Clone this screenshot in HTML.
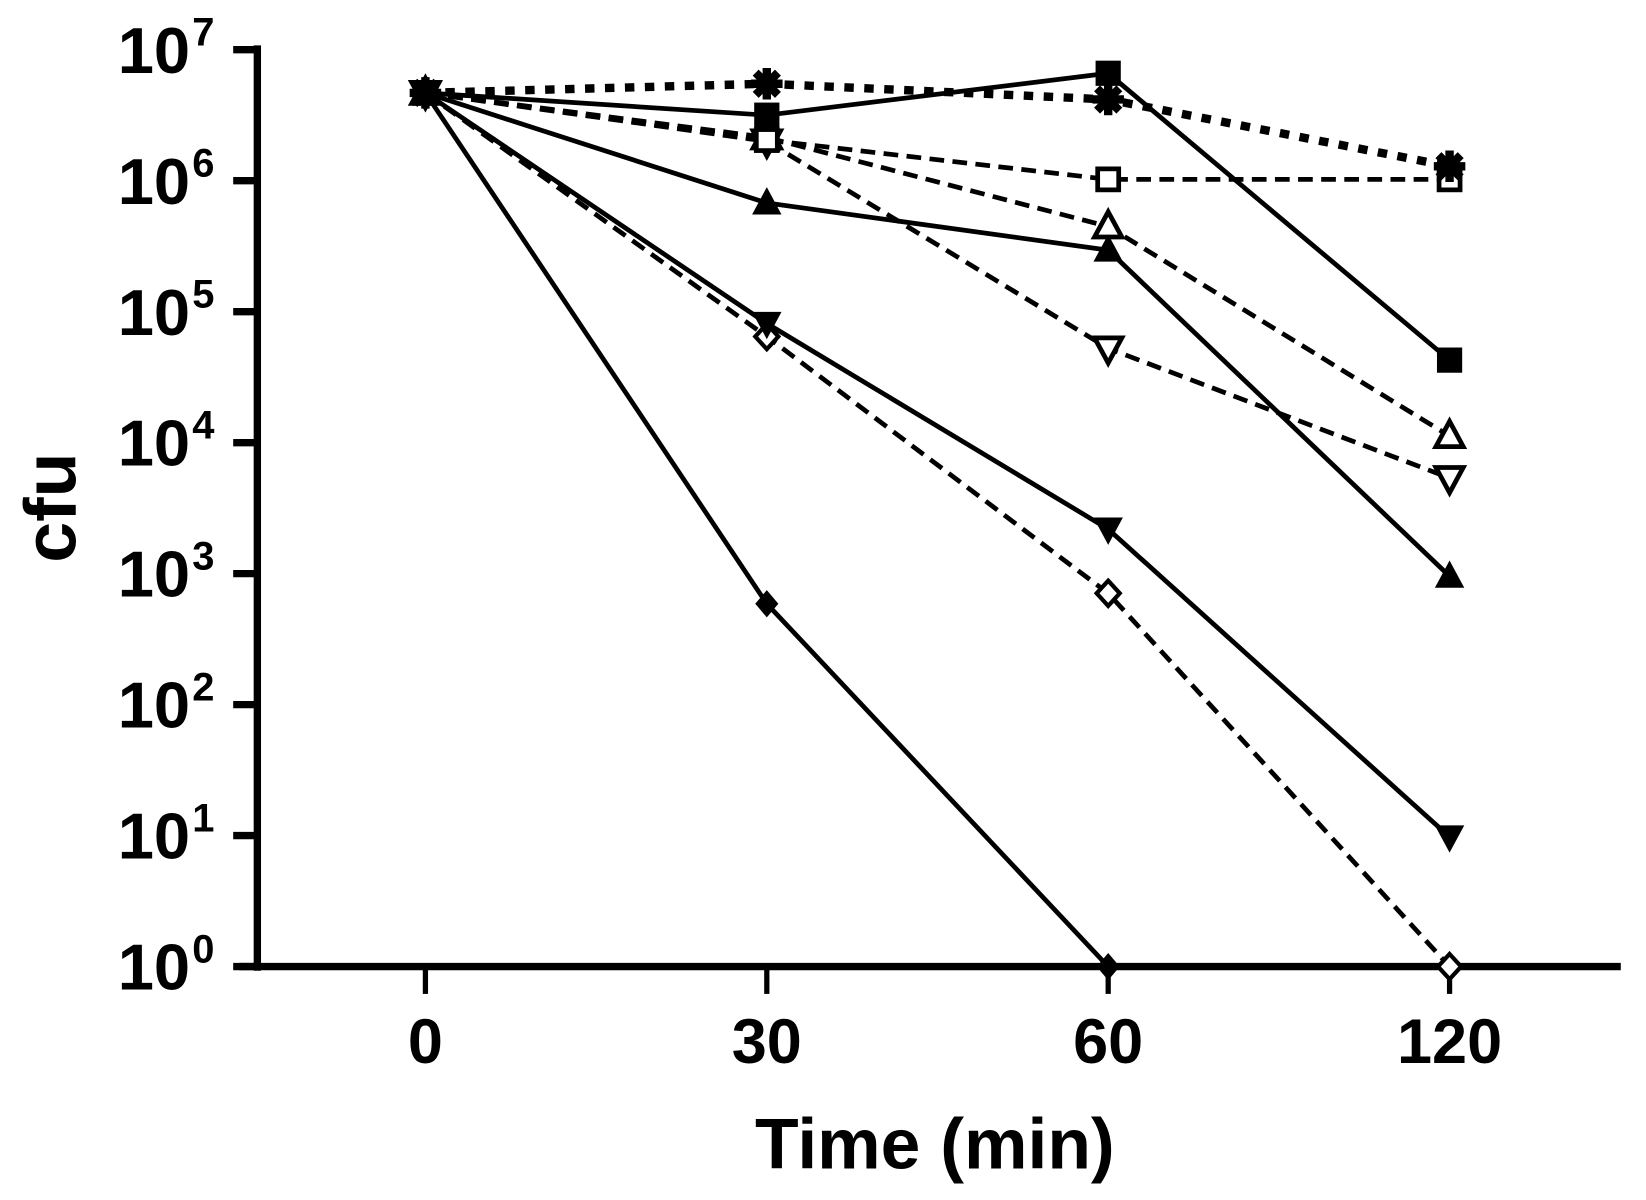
<!DOCTYPE html>
<html><head><meta charset="utf-8"><style>
html,body{margin:0;padding:0;background:#fff;}
svg{display:block;font-family:"Liberation Sans",Arial,sans-serif;font-weight:bold;}
</style></head><body>
<svg id="chart" width="1646" height="1200" viewBox="0 0 1567 1142" xmlns="http://www.w3.org/2000/svg">
<g id="axes"></g>
<g id="series"></g>
<text x="890" y="1112" font-size="68" text-anchor="middle">Time (min)</text>
<text transform="translate(72,483) rotate(-90)" font-size="70" text-anchor="middle">cfu</text>
</svg>
<script>
const categories = ["0", "30", "60", "120"];
const yTickExps = [0, 1, 2, 3, 4, 5, 6, 7];
// log10(cfu) values per series
const filledSquare   = [6.67, 6.50, 6.82, 4.63];
const asterisk       = [6.67, 6.74, 6.62, 6.11];
const openSquare     = [6.67, 6.31, 6.01, 6.01];
const filledTriUp    = [6.67, 5.83, 5.47, 2.98];
const openTriUp      = [6.67, 6.33, 5.65, 4.05];
const openTriDown    = [6.67, 6.30, 4.72, 3.73];
const filledTriDown  = [6.67, 4.91, 3.34, 0.99];
const openDiamond    = [6.67, 4.81, 2.85, 0.00];
const filledDiamond  = [6.67, 2.77, 0.00, null];

const NS = "http://www.w3.org/2000/svg";
const X0 = 405, XSTEP = 325, Y0 = 920, YSTEP = 124.7;
function xPos(i){ return X0 + i*XSTEP; }
function yPos(v){ return Y0 - v*YSTEP; }
function mk(tag, attrs, parent){
  const e = document.createElementNS(NS, tag);
  for (const k in attrs) e.setAttribute(k, attrs[k]);
  parent.appendChild(e); return e;
}
const axes = document.getElementById('axes');
const yAxis = mk('line', {x1:245, y1:43, x2:245, y2:924, stroke:'#000','stroke-width':7}, axes);


const xAxis = mk('line', {x1:228, y1:920, x2:1543, y2:920, stroke:'#000','stroke-width':7}, axes);


yTickExps.forEach(e => {
  const y = yPos(e);
  const t = mk('line', {x1:222, y1:y, x2:248, y2:y, stroke:'#000','stroke-width':7}, axes);
  
  
  const lab = mk('text', {x:181, y:y+22, 'font-size':62, 'text-anchor':'end'}, axes);
  
  
  lab.textContent = '10';
  const sup = mk('text', {x:183, y:y-4, 'font-size':38, 'text-anchor':'start'}, axes);
  
  
  sup.textContent = String(e);
});
categories.forEach((c, i) => {
  const x = xPos(i);
  const t = mk('line', {x1:x, y1:918, x2:x, y2:946, stroke:'#000','stroke-width':5}, axes);
  
  
  const lab = mk('text', {x:x, y:1012, 'font-size':60, 'text-anchor':'middle'}, axes);
  
  
  lab.textContent = c;
});

const seriesG = document.getElementById('series');
function marker(g, type, x, y){
  const s = 12;
  let el;
  if (type === 'fsq') el = mk('rect', {x:x-s, y:y-s, width:2*s, height:2*s, fill:'#000'}, g);
  else if (type === 'osq') el = mk('rect', {x:x-s+2, y:y-s+2, width:2*s-4, height:2*s-4, fill:'#fff', stroke:'#000','stroke-width':4.5}, g);
  else if (type === 'ftu') el = mk('polygon', {points:`${x},${y-15} ${x+14},${y+11} ${x-14},${y+11}`, fill:'#000'}, g);
  else if (type === 'otu') el = mk('polygon', {points:`${x},${y-14} ${x+13},${y+10} ${x-13},${y+10}`, fill:'#fff', stroke:'#000','stroke-width':4.5}, g);
  else if (type === 'ftd') el = mk('polygon', {points:`${x},${y+15} ${x+14},${y-11} ${x-14},${y-11}`, fill:'#000'}, g);
  else if (type === 'otd') el = mk('polygon', {points:`${x},${y+14} ${x+13},${y-10} ${x-13},${y-10}`, fill:'#fff', stroke:'#000','stroke-width':4.5}, g);
  else if (type === 'fdi') el = mk('polygon', {points:`${x},${y-13} ${x+11},${y} ${x},${y+13} ${x-11},${y}`, fill:'#000'}, g);
  else if (type === 'odi') el = mk('polygon', {points:`${x},${y-12} ${x+11},${y} ${x},${y+12} ${x-11},${y}`, fill:'#fff', stroke:'#000','stroke-width':4}, g);
  else if (type === 'ast') {
    el = mk('g', {}, g);
    [0,45,90,135].forEach(a => {
      const r = a*Math.PI/180, dx = Math.cos(r)*15, dy = Math.sin(r)*15;
      mk('line', {x1:x-dx, y1:y-dy, x2:x+dx, y2:y+dy, stroke:'#000','stroke-width':8}, el);
    });
  }
  
  
}
function drawSeries(name, vals, type, dash, width){
  const g = mk('g', {}, seriesG);
  
  
  const pts = [];
  vals.forEach((v, i) => { if (v !== null) pts.push([xPos(i), yPos(v)]); });
  const line = mk('polyline', {points: pts.map(p => p.join(',')).join(' '), fill:'none', stroke:'#000', 'stroke-width':width, 'stroke-dasharray':dash}, g);
  
  
  pts.forEach(p => marker(g, type, p[0], p[1]));
}
drawSeries('series-filled-diamond', filledDiamond, 'fdi', 'none', 4.5);
drawSeries('series-open-diamond', openDiamond, 'odi', '14,8', 4.5);
drawSeries('series-filled-triangle-down', filledTriDown, 'ftd', 'none', 4.5);
drawSeries('series-open-triangle-down', openTriDown, 'otd', '14,8', 4.5);
drawSeries('series-open-triangle-up', openTriUp, 'otu', '14,8', 4.5);
drawSeries('series-filled-triangle-up', filledTriUp, 'ftu', 'none', 4.5);
drawSeries('series-open-square', openSquare, 'osq', '14,8', 4.5);
drawSeries('series-filled-square', filledSquare, 'fsq', 'none', 4.5);
drawSeries('series-asterisk', asterisk, 'ast', '9,10', 8);
</script>
</body></html>
